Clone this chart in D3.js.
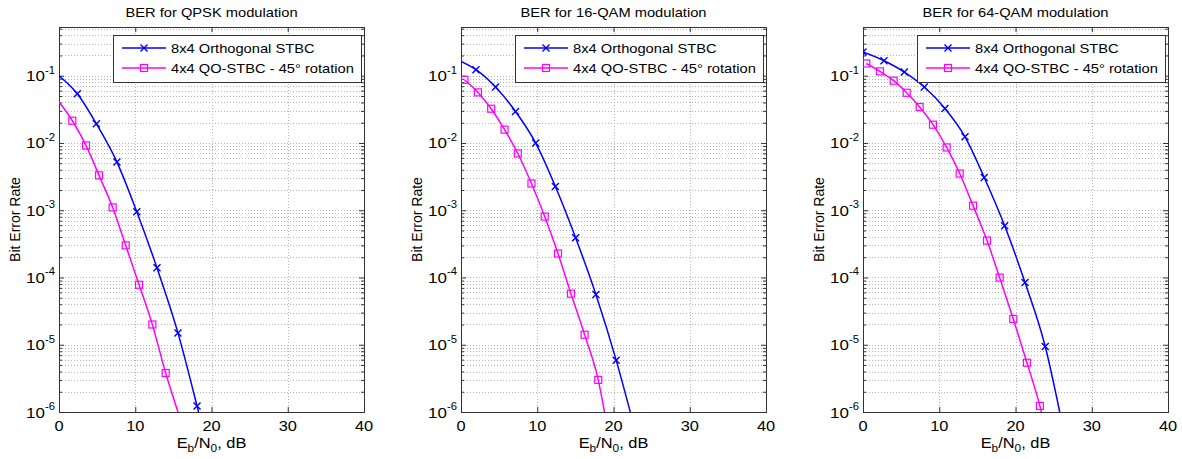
<!DOCTYPE html>
<html>
<head>
<meta charset="utf-8">
<script src="https://cdn.jsdelivr.net/npm/d3@7"></script>
<style>
  body { margin: 0; background: #fff; }
  text { font-family: "Liberation Sans", Arial, sans-serif; fill: #000; }
</style>
</head>
<body>
<svg id="chart"></svg>
<script>
// ---- data ----
const titles = ["BER for QPSK modulation", "BER for 16-QAM modulation", "BER for 64-QAM modulation"];
const seriesNames = ["8x4 Orthogonal STBC", "4x4 QO-STBC - 45\u00b0 rotation"];
const xTicks = [0, 10, 20, 30, 40];
const yDecades = [1e-6, 1e-5, 1e-4, 1e-3, 1e-2, 1e-1];
const xDomain = [0, 40];
const yDomain = [1e-6, 0.53];

// QPSK
const qpskOrthEbNo = [0, 2.4, 4.9, 7.6, 10.2, 12.85, 15.6, 18.1, 18.3];
const qpskOrthBer  = [0.1, 0.054, 0.0193, 0.0052, 0.00095, 1.39e-4, 1.5e-5, 1.23e-6, 1e-6];
const qpskOrthMark = [0, 1, 1, 1, 1, 1, 1, 1, 0];
const qpskQoEbNo = [0, 1.75, 3.54, 5.25, 7.04, 8.75, 10.5, 12.24, 13.99, 15.6];
const qpskQoBer  = [0.041, 0.0214, 0.0092, 0.0033, 0.0011, 3.0e-4, 7.8e-5, 2.0e-5, 3.8e-6, 1e-6];
const qpskQoMark = [0, 1, 1, 1, 1, 1, 1, 1, 1, 0];

// 16-QAM
const qam16OrthEbNo = [0, 1.96, 4.53, 7.15, 9.8, 12.38, 15.03, 17.69, 20.35, 22.2];
const qam16OrthBer  = [0.163, 0.123, 0.068, 0.0294, 0.00995, 0.00225, 3.9e-4, 5.6e-5, 5.9e-6, 1e-6];
const qam16OrthMark = [0, 1, 1, 1, 1, 1, 1, 1, 1, 0];
const qam16QoEbNo = [0.45, 2.22, 3.96, 5.71, 7.45, 9.24, 10.98, 12.72, 14.42, 16.21, 18.0, 18.82];
const qam16QoBer  = [0.087, 0.0565, 0.0323, 0.0158, 0.00698, 0.0025, 8.05e-4, 2.27e-4, 5.75e-5, 1.41e-5, 3.0e-6, 1e-6];
const qam16QoMark = [1, 1, 1, 1, 1, 1, 1, 1, 1, 1, 1, 0];

// 64-QAM
const qam64OrthEbNo = [0, 2.75, 5.42, 8.04, 10.75, 13.38, 15.9, 18.58, 21.25, 23.9, 25.8];
const qam64OrthBer  = [0.225, 0.167, 0.1135, 0.068, 0.0326, 0.01236, 0.00307, 5.86e-4, 8.4e-5, 9.4e-6, 1e-6];
const qam64OrthMark = [1, 1, 1, 1, 1, 1, 1, 1, 1, 1, 0];
const qam64QoEbNo = [0.43, 2.23, 4.02, 5.73, 7.43, 9.18, 10.97, 12.68, 14.43, 16.26, 17.92, 19.71, 21.5, 23.2, 23.4];
const qam64QoBer  = [0.152, 0.116, 0.0843, 0.0558, 0.0342, 0.0187, 0.00857, 0.00351, 0.00117, 3.54e-4, 9.97e-5, 2.42e-5, 5.4e-6, 1.23e-6, 1e-6];
const qam64QoMark = [1, 1, 1, 1, 1, 1, 1, 1, 1, 1, 1, 1, 1, 1, 0];

// ---- layout ----
const width = 1182, height = 459;
const panelLefts = [59, 461, 863];
const plotW = 305, plotTop = 27, plotBottom = 412;
const SX = 1.13; // horizontal stretch of the glyphs in the source image
const colors = ["#0000ff", "#ff00ff"];

function zip(xs, ys, ms) {
    return xs.map((x, i) => ({ x: x, y: ys[i], m: ms[i] }))
}

const panels = [
    [zip(qpskOrthEbNo, qpskOrthBer, qpskOrthMark), zip(qpskQoEbNo, qpskQoBer, qpskQoMark)],
    [zip(qam16OrthEbNo, qam16OrthBer, qam16OrthMark), zip(qam16QoEbNo, qam16QoBer, qam16QoMark)],
    [zip(qam64OrthEbNo, qam64OrthBer, qam64OrthMark), zip(qam64QoEbNo, qam64QoBer, qam64QoMark)]
];

const svg = d3.select("#chart")
    .attr("width", width)
    .attr("height", height);

// text helper: glyphs are a bit wider than tall in the reference
function sText(parent, x, y, size, anchor) {
    return parent.append("g")
        .attr("transform", `translate(${x},${y}) scale(${SX},1)`)
        .append("text")
        .attr("font-size", size)
        .attr("text-anchor", anchor);
}

// minor tick values for the log axis
const yMinor = [];
yDecades.forEach(d => {
    for (let k = 2; k <= 9; k++) {
        if (k * d <= yDomain[1]) yMinor.push(k * d);
    }
});

panels.forEach((series, p) => {
    const left = panelLefts[p];
    const right = left + plotW;

    const x = d3.scaleLinear().domain(xDomain).range([left, right]);
    const y = d3.scaleLog().domain(yDomain).range([plotBottom, plotTop]);

    const g = svg.append("g");

    // grid
    const grid = g.append("g")
        .attr("stroke", "#b4b4b4")
        .attr("stroke-width", 1)
        .attr("stroke-dasharray", "1,2");
    grid.selectAll(".gx")
        .data(xTicks.slice(1, -1))
        .enter().append("line")
        .attr("x1", d => Math.round(x(d)) + 0.5).attr("x2", d => Math.round(x(d)) + 0.5)
        .attr("y1", plotTop).attr("y2", plotBottom);
    grid.selectAll(".gy")
        .data(yDecades.slice(1).concat(yMinor))
        .enter().append("line")
        .attr("x1", left).attr("x2", right)
        .attr("y1", d => Math.round(y(d)) + 0.5).attr("y2", d => Math.round(y(d)) + 0.5);

    // ticks on all four sides, pointing inward
    const tickAxis = (gen, tx, ty) => {
        const a = g.append("g").attr("transform", `translate(${tx},${ty})`).call(gen);
        a.select(".domain").remove();
        a.selectAll("line").attr("stroke", "#333");
    };
    tickAxis(d3.axisBottom(x).tickValues(xTicks).tickSize(-5).tickFormat(""), 0, plotBottom);
    tickAxis(d3.axisTop(x).tickValues(xTicks).tickSize(-5).tickFormat(""), 0, plotTop);
    tickAxis(d3.axisLeft(y).tickValues(yDecades).tickSize(-5).tickFormat(""), left, 0);
    tickAxis(d3.axisRight(y).tickValues(yDecades).tickSize(-5).tickFormat(""), right, 0);
    tickAxis(d3.axisLeft(y).tickValues(yMinor).tickSize(-3).tickFormat(""), left, 0);
    tickAxis(d3.axisRight(y).tickValues(yMinor).tickSize(-3).tickFormat(""), right, 0);

    // box
    g.append("rect")
        .attr("x", left + 0.5).attr("y", plotTop + 0.5)
        .attr("width", plotW).attr("height", plotBottom - plotTop)
        .attr("fill", "none").attr("stroke", "#333").attr("stroke-width", 1);

    // tick labels
    xTicks.forEach(v => {
        sText(g, x(v), plotBottom + 19, 14.5, "middle").text(v);
    });
    yDecades.forEach(v => {
        const t = sText(g, left - 4, y(v) + 5.5, 15, "end");
        t.append("tspan").text("10");
        t.append("tspan").attr("font-size", 10).attr("dy", -7.5).text(Math.round(Math.log10(v)));
    });

    // title and axis labels
    sText(g, (left + right) / 2, 17, 13, "middle").text(titles[p]);
    const xl = sText(g, (left + right) / 2, 448, 14.5, "middle");
    xl.append("tspan").text("E");
    xl.append("tspan").attr("font-size", 10.5).attr("dy", 4).text("b");
    xl.append("tspan").attr("dy", -4).text("/N");
    xl.append("tspan").attr("font-size", 10.5).attr("dy", 4).text("0");
    xl.append("tspan").attr("dy", -4).text(", dB");
    g.append("text")
        .attr("transform", `translate(${left - 39},${(plotTop + plotBottom) / 2}) rotate(-90)`)
        .attr("font-size", 14)
        .attr("text-anchor", "middle")
        .text("Bit Error Rate");

    // curves
    const clipId = "clip" + p;
    svg.append("clipPath").attr("id", clipId)
        .append("rect").attr("x", left).attr("y", plotTop).attr("width", plotW).attr("height", plotBottom - plotTop);

    const line = d3.line()
        .x(d => x(d.x))
        .y(d => y(d.y))
        .curve(d3.curveMonotoneX);

    series.forEach((data, s) => {
        const sg = g.append("g").attr("clip-path", `url(#${clipId})`);
        sg.append("path")
            .datum(data)
            .attr("d", line)
            .attr("fill", "none")
            .attr("stroke", colors[s])
            .attr("stroke-width", 1.5);
        const pts = data.filter(d => d.m);
        if (s === 0) {
            sg.selectAll(".mx")
                .data(pts)
                .enter().append("path")
                .attr("d", d => {
                    const cx = x(d.x), cy = y(d.y), r = 3.5;
                    return `M${cx - r},${cy - r}L${cx + r},${cy + r}M${cx - r},${cy + r}L${cx + r},${cy - r}`;
                })
                .attr("stroke", colors[s]).attr("stroke-width", 1.4).attr("fill", "none");
        } else {
            sg.selectAll(".ms")
                .data(pts)
                .enter().append("rect")
                .attr("x", d => x(d.x) - 3.5).attr("y", d => y(d.y) - 3.5)
                .attr("width", 7).attr("height", 7)
                .attr("stroke", colors[s]).attr("stroke-width", 1.2).attr("fill", "none");
        }
    });

    // legend
    const lx = left + 54, ly = 35;
    const lg = g.append("g");
    lg.append("rect")
        .attr("x", lx + 0.5).attr("y", ly + 0.5)
        .attr("width", 248).attr("height", 47)
        .attr("fill", "#fff").attr("stroke", "#333").attr("stroke-width", 1);
    seriesNames.forEach((name, s) => {
        const ry = ly + 13 + s * 20;
        lg.append("line")
            .attr("x1", lx + 9).attr("x2", lx + 53)
            .attr("y1", ry).attr("y2", ry)
            .attr("stroke", colors[s]).attr("stroke-width", 1.5);
        const cx = lx + 31;
        if (s === 0) {
            lg.append("path")
                .attr("d", `M${cx - 3.5},${ry - 3.5}L${cx + 3.5},${ry + 3.5}M${cx - 3.5},${ry + 3.5}L${cx + 3.5},${ry - 3.5}`)
                .attr("stroke", colors[s]).attr("stroke-width", 1.4);
        } else {
            lg.append("rect")
                .attr("x", cx - 3.5).attr("y", ry - 3.5).attr("width", 7).attr("height", 7)
                .attr("fill", "none").attr("stroke", colors[s]).attr("stroke-width", 1.2);
        }
        sText(lg, lx + 58, ry + 5, 13, "start").text(name);
    });
});
</script>
</body>
</html>
